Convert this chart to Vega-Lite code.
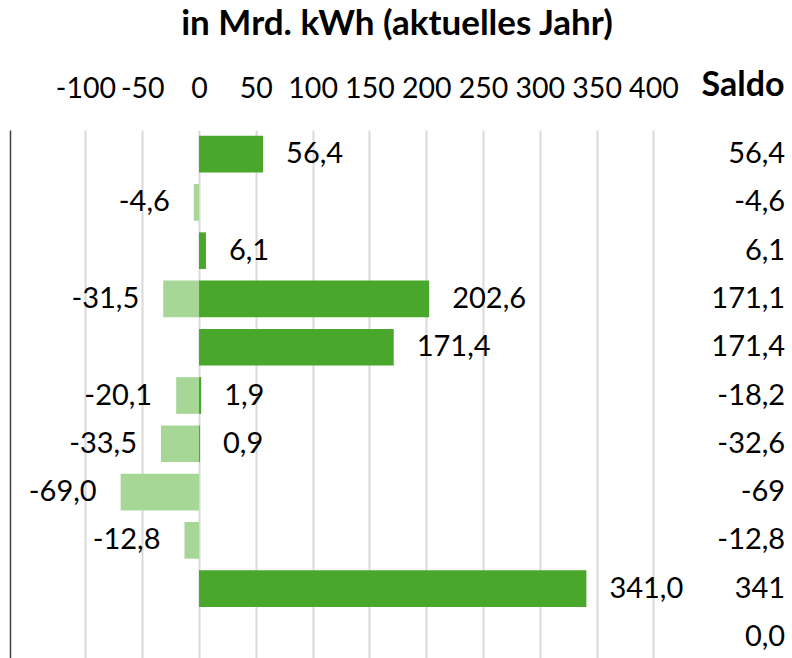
{
  "$schema": "https://vega.github.io/schema/vega-lite/v6.json",
  "width": 782,
  "height": 531,
  "autosize": {"type": "none"},
  "padding": {"left": 10, "top": 130, "right": 0, "bottom": 0},
  "background": "white",
  "config": {
    "view": {"stroke": null},
    "font": "Lato",
    "text": {"font": "Lato", "fontSize": 29, "color": "#000000"}
  },
  "title": {
    "text": "in Mrd. kWh (aktuelles Jahr)",
    "font": "Lato",
    "fontSize": 35,
    "fontWeight": "bold",
    "color": "#000000",
    "anchor": "middle",
    "frame": "group",
    "dx": -4,
    "offset": 26
  },
  "datasets": {
    "bars": [
      {"zeile": "01", "typ": "plus", "wert": 56.4, "label": "56,4"},
      {"zeile": "02", "typ": "minus", "wert": -4.6, "label": "-4,6"},
      {"zeile": "03", "typ": "plus", "wert": 6.1, "label": "6,1"},
      {"zeile": "04", "typ": "plus", "wert": 202.6, "label": "202,6"},
      {"zeile": "04", "typ": "minus", "wert": -31.5, "label": "-31,5"},
      {"zeile": "05", "typ": "plus", "wert": 171.4, "label": "171,4"},
      {"zeile": "06", "typ": "plus", "wert": 1.9, "label": "1,9"},
      {"zeile": "06", "typ": "minus", "wert": -20.1, "label": "-20,1"},
      {"zeile": "07", "typ": "plus", "wert": 0.9, "label": "0,9"},
      {"zeile": "07", "typ": "minus", "wert": -33.5, "label": "-33,5"},
      {"zeile": "08", "typ": "minus", "wert": -69.0, "label": "-69,0"},
      {"zeile": "09", "typ": "minus", "wert": -12.8, "label": "-12,8"},
      {"zeile": "10", "typ": "plus", "wert": 341.0, "label": "341,0"}
    ],
    "saldo": [
      {"zeile": "01", "saldo": "56,4"},
      {"zeile": "02", "saldo": "-4,6"},
      {"zeile": "03", "saldo": "6,1"},
      {"zeile": "04", "saldo": "171,1"},
      {"zeile": "05", "saldo": "171,4"},
      {"zeile": "06", "saldo": "-18,2"},
      {"zeile": "07", "saldo": "-32,6"},
      {"zeile": "08", "saldo": "-69"},
      {"zeile": "09", "saldo": "-12,8"},
      {"zeile": "10", "saldo": "341"},
      {"zeile": "11", "saldo": "0,0"}
    ]
  },
  "data": {"name": "bars"},
  "encoding": {
    "y": {
      "field": "zeile",
      "type": "ordinal",
      "sort": null,
      "scale": {
        "domain": ["01", "02", "03", "04", "05", "06", "07", "08", "09", "10", "11"],
        "paddingInner": 0.24,
        "paddingOuter": 0.12
      },
      "axis": {
        "labels": false,
        "ticks": false,
        "domain": true,
        "domainColor": "#404040",
        "domainWidth": 1.5,
        "grid": false,
        "title": null
      }
    }
  },
  "layer": [
    {
      "mark": {"type": "bar"},
      "encoding": {
        "x": {
          "field": "wert",
          "type": "quantitative",
          "stack": null,
          "scale": {"domain": [-166.4, 522], "nice": false, "zero": false},
          "axis": {
            "orient": "top",
            "values": [-100, -50, 0, 50, 100, 150, 200, 250, 300, 350, 400],
            "labelExpr": "'' + datum.value",
            "labelFont": "Lato",
            "labelFontSize": 28.5,
            "labelColor": "#000000",
            "labelPadding": 27,
            "labelFlush": false,
            "labelOverlap": false,
            "ticks": false,
            "domain": false,
            "grid": true,
            "gridColor": "#d9d9d9",
            "gridWidth": 2,
            "title": "Saldo",
            "titleFont": "Lato",
            "titleFontSize": 34,
            "titleFontWeight": "bold",
            "titleColor": "#000000",
            "titleAlign": "right",
            "titleAnchor": "end",
            "titleAngle": 0,
            "titleBaseline": "bottom",
            "titleX": 774,
            "titleY": -28
          }
        },
        "color": {
          "field": "typ",
          "type": "nominal",
          "scale": {"domain": ["plus", "minus"], "range": ["#49a82b", "#a6d796"]},
          "legend": null
        }
      }
    },
    {
      "transform": [{"filter": "datum.wert > 0"}],
      "mark": {"type": "text", "align": "left", "baseline": "middle", "dx": 23, "fontSize": 29},
      "encoding": {
        "x": {"field": "wert", "type": "quantitative"},
        "text": {"field": "label"}
      }
    },
    {
      "transform": [{"filter": "datum.wert < 0"}],
      "mark": {"type": "text", "align": "right", "baseline": "middle", "dx": -24, "fontSize": 29},
      "encoding": {
        "x": {"field": "wert", "type": "quantitative"},
        "text": {"field": "label"}
      }
    },
    {
      "data": {"name": "saldo"},
      "mark": {"type": "text", "align": "right", "baseline": "middle", "fontSize": 29},
      "encoding": {
        "x": {"datum": 516},
        "text": {"field": "saldo"}
      }
    }
  ]
}
